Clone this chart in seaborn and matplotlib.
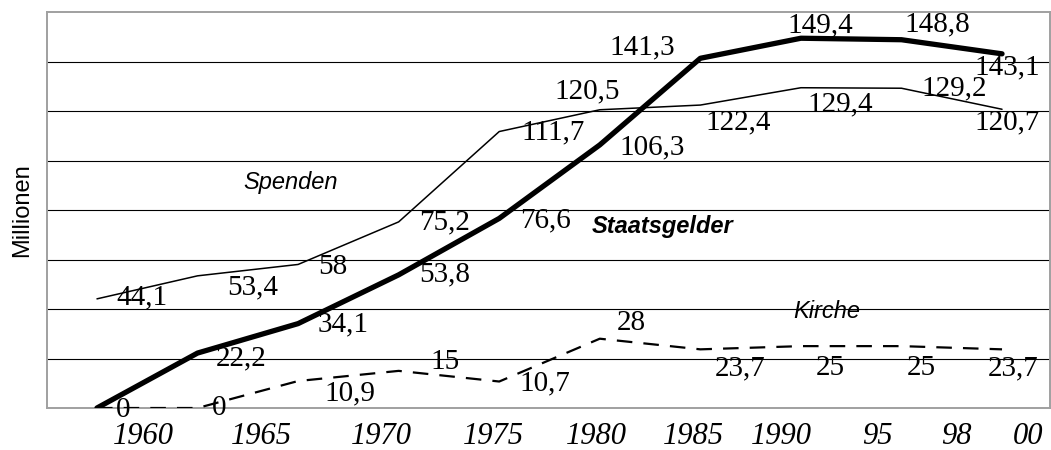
"""
Staatsgelder / Spenden / Kirche, 1960-2000 (Millionen).
"""
import numpy as np
import pandas as pd
import matplotlib
matplotlib.use("Agg")
import matplotlib.pyplot as plt
import seaborn as sns

# ── data ─────────────────────────────────────────────────────────────────────
points       = list(range(10))
staatsgelder = [0, 22.2, 34.1, 53.8, 76.6, 106.3, 141.3, 149.4, 148.8, 143.1]
spenden      = [44.1, 53.4, 58, 75.2, 111.7, 120.5, 122.4, 129.4, 129.2, 120.7]
kirche       = [0, 0, 10.9, 15, 10.7, 28, 23.7, 25, 25, 23.7]
tick_labels  = ["1960", "1965", "1970", "1975", "1980", "1985", "1990", "95", "98", "00"]

# ── layout (label offsets in pixels, tick positions in point units) ─────────
tick_pos = [0.46, 1.64, 2.83, 3.94, 4.97, 5.93, 6.81, 7.76, 8.55, 9.26]
off_staat = [(26, -2), (44, -5), (45, -1), (46, 0), (46, -2), (52, -2),
             (-58, 11), (19, 13), (36, 15), (5, -14)]
off_spend = [(45, 1), (55, -12), (35, -3), (46, 0), (54, -1), (-13, 18),
             (38, -17), (39, -17), (53, 0), (5, -13)]
# first Kirche label sits exactly under the Staatsgelder "0" -> drawn once
off_kirch = [None, (22, 0), (52, -12), (46, 9), (46, -2), (32, 16),
             (40, -19), (29, -22), (20, -22), (11, -19)]

SERIF = "Liberation Serif"
SANS = "Liberation Sans"

sns.set_style("white")
plt.rcParams["font.family"] = [SANS, "DejaVu Sans"]
plt.rcParams["text.color"] = "black"
plt.rcParams["xtick.color"] = "black"

fig = plt.figure(figsize=(10.51, 4.5), dpi=100)
ax = fig.add_axes([47/1051, 1 - 408/450, 1003/1051, 396/450])

df = pd.DataFrame({"p": points, "Staatsgelder": staatsgelder,
                   "Spenden": spenden, "Kirche": kirche})

for y in range(20, 160, 20):
    ax.axhline(y, color="black", lw=0.8, zorder=1)

sns.lineplot(data=df, x="p", y="Spenden", color="black", lw=1.1, ax=ax, zorder=3)
sns.lineplot(data=df, x="p", y="Kirche", color="black", lw=1.6, ax=ax, zorder=3,
             dashes=False, linestyle=(0, (7, 5)))
sns.lineplot(data=df, x="p", y="Staatsgelder", color="black", lw=3.8, ax=ax,
             zorder=4, solid_capstyle="round", solid_joinstyle="round")

def fmt(v):
    return f"{v:g}".replace(".", ",")

for vals, offs in [(staatsgelder, off_staat), (spenden, off_spend), (kirche, off_kirch)]:
    for x, v, off in zip(points, vals, offs):
        if off is None:
            continue
        ax.annotate(fmt(v), (x, v), xytext=off, textcoords="offset pixels",
                    ha="center", va="center", fontsize=21, family=SERIF,
                    color="black", zorder=5, annotation_clip=False)

ax.text(291/1051, 1 - 182/450, "Spenden", transform=fig.transFigure,
        ha="center", va="center", fontsize=17, style="italic")
ax.text(663/1051, 1 - 227/450, "Staatsgelder", transform=fig.transFigure,
        ha="center", va="center", fontsize=17, style="italic", weight="bold")
ax.text(827/1051, 1 - 312/450, "Kirche", transform=fig.transFigure,
        ha="center", va="center", fontsize=17, style="italic")

ax.set_xlim(-0.497, 9.477)
ax.set_ylim(0, 160)
ax.set_yticks([])
ax.set_xticks(tick_pos)
ax.set_xticklabels(tick_labels, family=SERIF, style="italic", fontsize=22)
ax.tick_params(axis="x", length=0, pad=10)
ax.set_xlabel("")
ax.set_ylabel("")
fig.text(22/1051, 1 - 210/450, "Millionen", rotation=90, ha="center",
         va="center", fontsize=17)

for s in ax.spines.values():
    s.set_visible(True)
    s.set_color("#a0a0a0")
    s.set_linewidth(1.4)

fig.savefig("out.png", dpi=100, facecolor="white")
